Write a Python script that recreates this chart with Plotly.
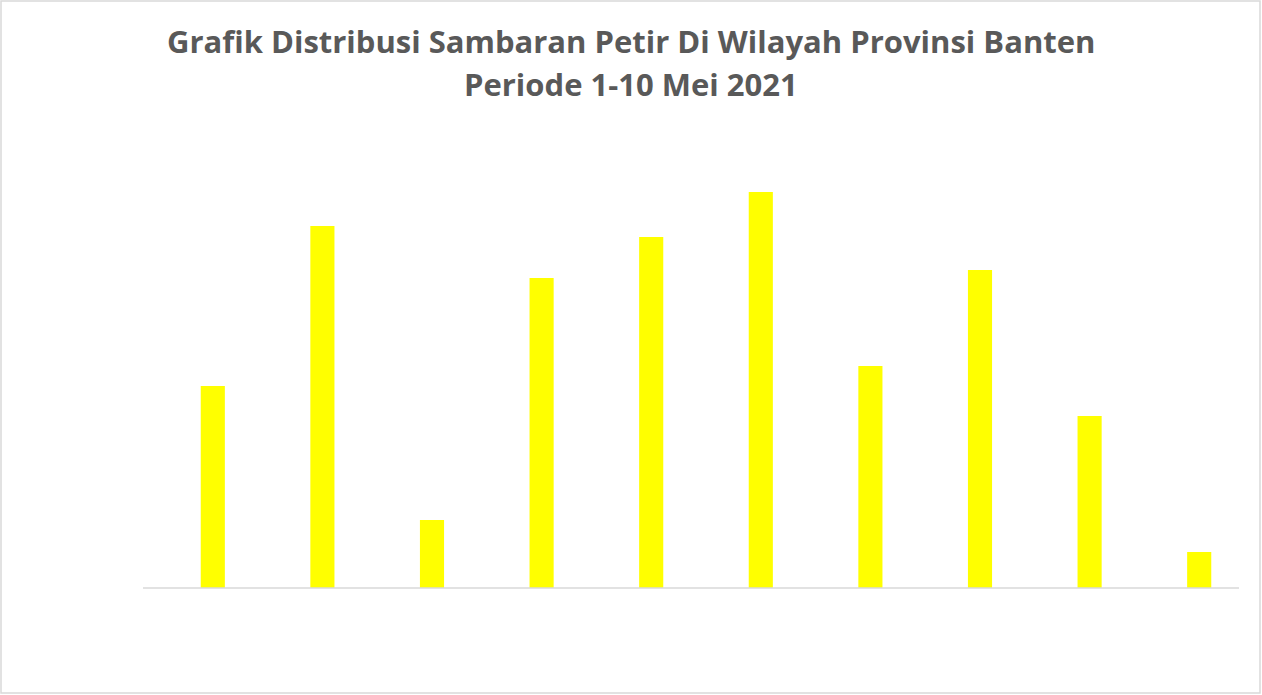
import plotly.graph_objects as go

# daily lightning strike counts, 1-10 May 2021
days = ["1 Mei", "2 Mei", "3 Mei", "4 Mei", "5 Mei", "6 Mei", "7 Mei", "8 Mei", "9 Mei", "10 Mei"]
strikes = [202, 362, 68, 310, 351, 396, 222, 318, 172, 36]

title_lines = [
    "Grafik Distribusi Sambaran Petir Di Wilayah Provinsi Banten",
    "Periode 1-10 Mei 2021",
]

W, H = 1262, 695
m_l, m_r, m_t, m_b = 158, 8, 138, 107
pw = W - m_l - m_r
ph = H - m_t - m_b


def px(x):
    # page pixel -> paper x
    return (x - m_l) / pw


def py(y):
    # page pixel -> paper y
    return (H - m_b - y) / ph


fig = go.Figure(
    go.Bar(
        x=days,
        y=strikes,
        marker_color="#FFFF00",
        marker_line_width=0,
    )
)

# baseline of the category axis (a bit shifted left of the bars, as in the original)
fig.add_shape(
    type="line", xref="paper", yref="paper",
    x0=px(143), x1=px(1239), y0=py(588), y1=py(588),
    line=dict(color="#D9D9D9", width=1.5),
)
# thin grey frame around the whole chart
fig.add_shape(
    type="rect", xref="paper", yref="paper",
    x0=px(1), x1=px(1260), y0=py(693), y1=py(1),
    line=dict(color="#D9D9D9", width=1.5),
    fillcolor="rgba(0,0,0,0)",
)

# two-line title, placed line by line
for text, ymid in zip(title_lines, [41, 84]):
    fig.add_annotation(
        text=f"<b>{text}</b>",
        xref="paper", yref="paper",
        x=px(631), y=py(ymid),
        xanchor="center", yanchor="middle",
        showarrow=False,
        font=dict(family="Open Sans", size=31, color="#595959"),
    )

fig.update_layout(
    width=W,
    height=H,
    margin=dict(l=m_l, r=m_r, t=m_t, b=m_b),
    paper_bgcolor="white",
    plot_bgcolor="white",
    bargap=0.78,
    showlegend=False,
    font=dict(family="Open Sans", color="#595959"),
)

fig.update_xaxes(showline=False, showticklabels=False, ticks="", showgrid=False)
fig.update_yaxes(
    range=[0, 450],
    showgrid=False,
    zeroline=False,
    showticklabels=False,
    ticks="",
)

fig.write_html(
    "out.html",
    config={"displayModeBar": False},
    post_script="document.body.style.margin='0';",
)
